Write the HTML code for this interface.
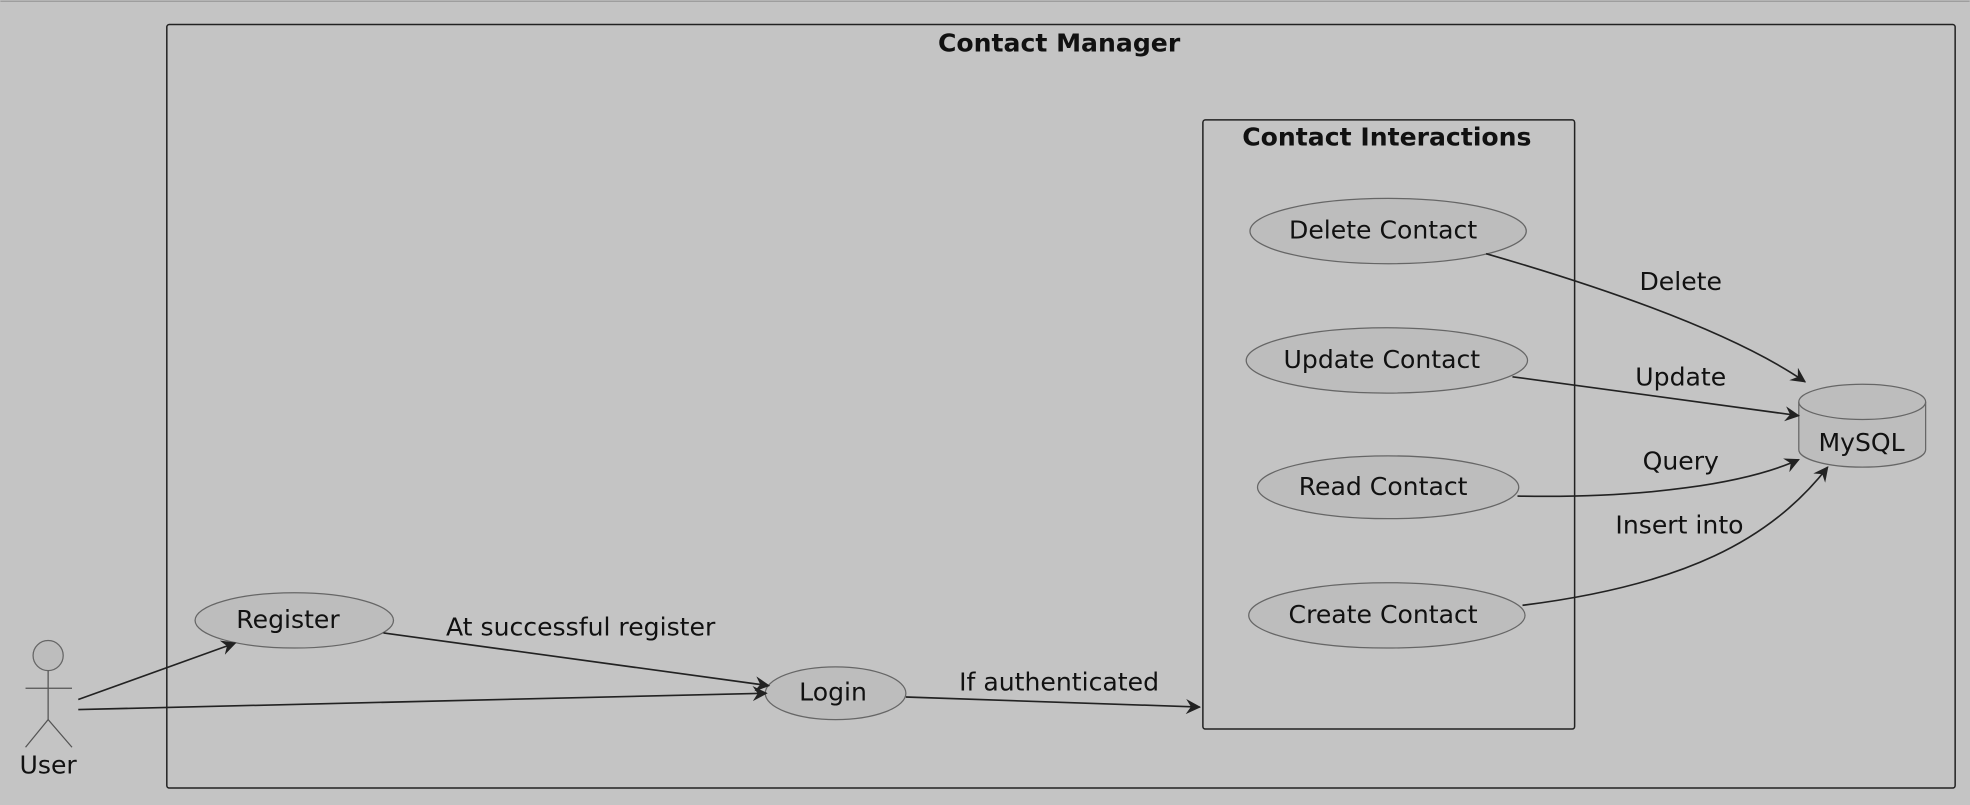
<!DOCTYPE html>
<html><head><meta charset="utf-8"><style>
html,body{margin:0;padding:0;background:#c4c4c4;width:1970px;height:805px;overflow:hidden}
svg{display:block}
text{font-family:"DejaVu Sans","Liberation Sans",sans-serif;fill:#111}
</style></head><body>
<svg width="1970" height="805" viewBox="0 0 1568 641" xmlns="http://www.w3.org/2000/svg">
<defs><marker id="a" viewBox="0 0 12 12" refX="11" refY="6" markerWidth="12" markerHeight="12" markerUnits="userSpaceOnUse" orient="auto"><path d="M0,0 L12,6 L0,12 L4,6 Z" fill="#222"/></marker></defs>
<rect x="0" y="0" width="1568" height="641" fill="#c4c4c4"/>
<line x1="0" y1="1" x2="1568" y2="1" stroke="#999" stroke-width="1"/>
<rect x="132.5" y="19.5" width="1424" height="608" rx="2" fill="none" stroke="#222" stroke-width="1.2"/>
<text x="843" y="41" font-size="20" font-weight="bold" text-anchor="middle">Contact Manager</text>
<rect x="957.5" y="95.5" width="296" height="485" rx="2" fill="none" stroke="#222" stroke-width="1.2"/>
<text x="1104" y="116" font-size="20" font-weight="bold" text-anchor="middle">Contact Interactions</text>
<g fill="#bdbdbd" stroke="#666" stroke-width="1">
<ellipse cx="1105" cy="184" rx="110" ry="26"/>
<ellipse cx="1104" cy="287" rx="112" ry="26"/>
<ellipse cx="1105" cy="388" rx="104" ry="25"/>
<ellipse cx="1104" cy="490" rx="110" ry="26"/>
<ellipse cx="234" cy="494" rx="79" ry="22"/>
<ellipse cx="665" cy="552" rx="56" ry="21"/>
<path d="M1432,320 L1432,358 A50.5,14 0 0 0 1533,358 L1533,320"/>
<ellipse cx="1482.5" cy="320" rx="50.5" ry="14"/>
<circle cx="38" cy="522" r="12"/>
</g>
<g font-size="20" text-anchor="middle">
<text x="1101" y="190">Delete Contact</text>
<text x="1100" y="293">Update Contact</text>
<text x="1101" y="394">Read Contact</text>
<text x="1101" y="496">Create Contact</text>
<text x="229" y="500">Register</text>
<text x="663" y="558">Login</text>
<text x="1482" y="359">MySQL</text>
<text x="38" y="616">User</text>
<text x="462" y="506">At successful register</text>
<text x="843" y="550">If authenticated</text>
<text x="1338" y="231">Delete</text>
<text x="1338" y="307">Update</text>
<text x="1338" y="374">Query</text>
<text x="1337" y="425">Insert into</text>
</g>
<g stroke="#555" stroke-width="1" fill="none">
<line x1="38" y1="534" x2="38" y2="573"/>
<line x1="20" y1="548" x2="57" y2="548"/>
<path d="M20,595 L38,573 L57,595"/>
</g>
<g stroke="#222" stroke-width="1.3" fill="none" marker-end="url(#a)">
<line x1="62" y1="557" x2="187" y2="512"/>
<line x1="62" y1="565" x2="610" y2="552"/>
<line x1="305" y1="504" x2="612" y2="546"/>
<line x1="721" y1="555" x2="955" y2="563"/>
<path d="M1183,202 C1280,230 1380,265 1437,304"/>
<line x1="1204" y1="300" x2="1432" y2="331"/>
<path d="M1208,395 C1310,397 1390,385 1432,366"/>
<path d="M1212,482 C1340,466 1410,430 1455,372"/>
</g>
</svg>
</body></html>
